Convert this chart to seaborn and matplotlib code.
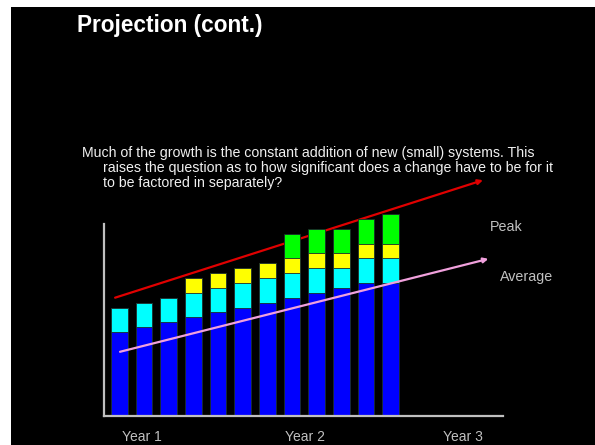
import matplotlib
matplotlib.use("Agg")
import matplotlib.pyplot as plt
import seaborn as sns
import pandas as pd

# ---- data ----
periods = ["1", "2", "3", "4", "5", "6", "7", "8", "9", "10", "11", "12"]
blue_part = [17, 18, 19, 20, 21, 22, 23, 24, 25, 26, 27, 27]
cyan_part = [5, 5, 5, 5, 5, 5, 5, 5, 5, 4, 5, 5]
yellow_part = [0, 0, 0, 3, 3, 3, 3, 3, 3, 3, 3, 3]
green_part = [0, 0, 0, 0, 0, 0, 0, 5, 5, 5, 5, 6]

year_labels = ["Year 1", "Year 2", "Year 3"]

peak_trend_x = [-0.17, 14.74]
peak_trend_y = [24.0, 47.9]
avg_trend_x = [0.03, 14.96]
avg_trend_y = [13.0, 31.9]

title = "Projection (cont.)"
body_lines = [
    "Much of the growth is the constant addition of new (small) systems. This",
    "raises the question as to how significant does a change have to be for it",
    "to be factored in separately?",
]

# ---- layout ----
W, H = 595, 445
FONT = "Liberation Sans"
sns.set_style("white")
plt.rcParams["font.family"] = [FONT, "DejaVu Sans"]

fig = plt.figure(figsize=(W / 100, H / 100), dpi=100, facecolor="white")
ax = fig.add_axes([11 / W, 0, (W - 11) / W, (H - 7) / H])
ax.set_facecolor("black")


def fpx(x, y):
    return x / W, 1 - y / H


# cumulative layers (drawn tallest first, overlapping)
c1 = blue_part
c2 = [a + b for a, b in zip(c1, cyan_part)]
c3 = [a + b for a, b in zip(c2, yellow_part)]
c4 = [a + b for a, b in zip(c3, green_part)]

df = pd.DataFrame({"period": periods, "c1": c1, "c2": c2, "c3": c3, "c4": c4})
layers = [("c4", "#00ff00"), ("c3", "#ffff00"), ("c2", "#00ffff"), ("c1", "#0000ff")]
for col, colr in layers:
    sns.barplot(data=df, x="period", y=col, order=periods, color=colr,
                saturation=1, width=0.67, errorbar=None, ax=ax,
                edgecolor="#1a2a2a", linewidth=0.6, zorder=2)

# trend lines
ax.annotate("", xy=(peak_trend_x[1], peak_trend_y[1]),
            xytext=(peak_trend_x[0], peak_trend_y[0]),
            arrowprops=dict(arrowstyle="-|>", color="#e00000", lw=1.6,
                            mutation_scale=7, shrinkA=0, shrinkB=0),
            zorder=1)
ax.annotate("", xy=(avg_trend_x[1], avg_trend_y[1]),
            xytext=(avg_trend_x[0], avg_trend_y[0]),
            arrowprops=dict(arrowstyle="-|>", color="#f0a0dc", lw=1.6,
                            mutation_scale=7, shrinkA=0, shrinkB=0),
            zorder=4)

# axes mapping to pixels
ax.set_xlim((11 - 119.3) / 24.67, (W - 119.3) / 24.67)
ax.set_ylim((415.7 - H) / 4.917, (415.7 - 7) / 4.917)

for s in ["top", "right"]:
    ax.spines[s].set_visible(False)
ax.spines["left"].set_position(("data", -0.62))
ax.spines["left"].set_bounds(0, 39)
ax.spines["bottom"].set_position(("data", 0))
ax.spines["bottom"].set_bounds(-0.62, 15.55)
for s in ["left", "bottom"]:
    ax.spines[s].set_color("#c0c0c0")
    ax.spines[s].set_linewidth(1.6)
    ax.spines[s].set_zorder(3)

ax.set_yticks([])
ax.set_xticks([0.9, 7.53, 13.92], year_labels)
ax.tick_params(axis="x", length=0, pad=10, colors="#c0c0c0", labelsize=10)
ax.set_xlabel("")
ax.set_ylabel("")

# texts
fig.text(*fpx(76.7, 31.7), title, fontsize=16.3, fontweight="bold",
         color="white", va="baseline", ha="left")
fig.text(*fpx(81.7, 157), body_lines[0], fontsize=10.2, color="#f0f0f0",
         va="baseline", ha="left")
fig.text(*fpx(103.3, 172.3), body_lines[1], fontsize=10.2, color="#f0f0f0",
         va="baseline", ha="left")
fig.text(*fpx(103.3, 187.3), body_lines[2], fontsize=10.2, color="#f0f0f0",
         va="baseline", ha="left")
fig.text(*fpx(490, 231), "Peak", fontsize=10.3, color="#c0c0c0",
         va="baseline", ha="left")
fig.text(*fpx(500, 280.5), "Average", fontsize=10.3, color="#c0c0c0",
         va="baseline", ha="left")

fig.savefig("out.png", dpi=100, facecolor="white")
